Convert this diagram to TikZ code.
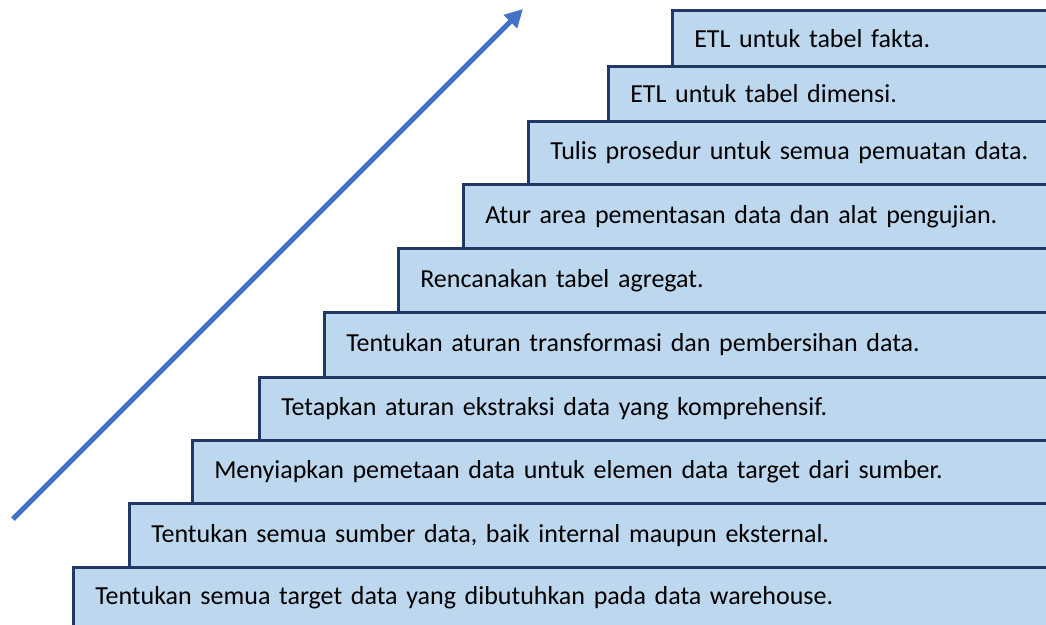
\documentclass[tikz,border=0pt]{standalone}
\usepackage{fontspec}
\setmainfont{Carlito}
\usetikzlibrary{arrows.meta}
\definecolor{stepfill}{HTML}{BDD7EE}
\definecolor{stepline}{HTML}{1F3864}
\definecolor{arrowblue}{HTML}{4472C4}
\tikzset{
  stepbox/.style={draw=stepline, fill=stepfill, line width=2.5pt, anchor=north west,
    inner xsep=22pt, inner ysep=0pt, align=left, font=\fontsize{26}{30}\selectfont},
}
\newcommand{\mystep}[5]{% name, left, top, bottom, text
  \pgfmathsetmacro{\tw}{1090-#2-44}
  \pgfmathsetmacro{\hh}{#4-#3}
  \node[stepbox, text width=\tw pt, minimum height=\hh pt] (#1) at (#2,#3) {#5};
}
\begin{document}
\begin{tikzpicture}[x=1pt,y=-1pt]
\useasboundingbox (0,0) rectangle (1046,624);
\clip (0,0) rectangle (1046,624);
\mystep{s10}{671}{9}{65}{ETL untuk tabel fakta.}
\mystep{s9}{607}{65}{120}{ETL untuk tabel dimensi.}
\mystep{s8}{527}{120}{183}{Tulis prosedur untuk semua pemuatan data.}
\mystep{s7}{462}{183}{247}{Atur area pementasan data dan alat pengujian.}
\mystep{s6}{397}{247}{311}{Rencanakan tabel agregat.}
\mystep{s5}{323}{311}{376}{Tentukan aturan transformasi dan pembersihan data.}
\mystep{s4}{258}{376}{439}{Tetapkan aturan ekstraksi data yang komprehensif.}
\mystep{s3}{191}{439}{502}{Menyiapkan pemetaan data untuk elemen data target dari sumber.}
\mystep{s2}{128}{502}{566}{Tentukan semua sumber data, baik internal maupun eksternal.}
\mystep{s1}{72}{566}{626}{Tentukan semua target data yang dibutuhkan pada data warehouse.}
\coordinate (astart) at (13,519);
\coordinate (aend) at (523,9);
\draw[arrowblue, line width=5pt, -{Triangle[length=18pt,width=18pt]}] (astart) -- (aend);
\end{tikzpicture}
\end{document}
